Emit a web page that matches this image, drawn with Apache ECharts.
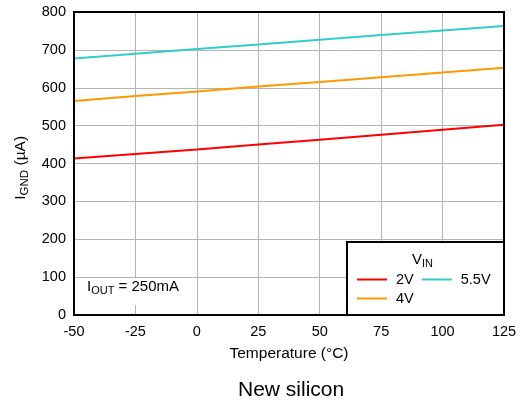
<!DOCTYPE html>
<html><head><meta charset="utf-8">
<script src="https://cdn.jsdelivr.net/npm/echarts@6/dist/echarts.min.js"></script>
<style>html,body{margin:0;padding:0;background:#fff}#c{width:523px;height:406px}</style>
</head><body><div id="c"></div>
<script>
const temps = [-50, -25, 0, 25, 50, 75, 100, 125];
const v2 = [413, 425, 437, 450, 463, 476, 489, 502];
const v4 = [565, 578, 590, 603, 615, 628, 640, 653];
const v55 = [677, 690, 702, 714, 727, 739, 751, 763];
const seriesNames = ['2V', '4V', '5.5V'];
const seriesColors = ['#ff0000', '#ff9900', '#33cccc'];
const seriesData = [v2, v4, v55];

const FONT = 'Liberation Sans, Arial, sans-serif';
const RICH = {
  m: {fontSize: 15, color: '#000', fontFamily: FONT, verticalAlign: 'top', lineHeight: 18},
  s: {fontSize: 11, color: '#000', fontFamily: FONT, verticalAlign: 'top', lineHeight: 18, padding: [6, 0, 0, 0]}
};
const RICHY = {
  m: {fontSize: 15.5, color: '#000', fontFamily: FONT, verticalAlign: 'top', lineHeight: 19},
  s: {fontSize: 11.5, color: '#000', fontFamily: FONT, verticalAlign: 'top', lineHeight: 19, padding: [6, 0, 0, 0]}
};
const chart = echarts.init(document.getElementById('c'), null, {renderer: 'canvas'});
chart.setOption({
  animation: false,
  textStyle: {fontFamily: FONT},
  grid: {left: 74, top: 12, right: 19, bottom: 91, outerBoundsMode: 'none', containLabel: false},
  xAxis: {
    type: 'value', min: -50, max: 125, interval: 25,
    axisLine: {show: true, onZero: false, lineStyle: {color: '#000', width: 2}},
    axisTick: {show: false},
    splitLine: {show: true, lineStyle: {color: '#b4b4b4', width: 1}},
    axisLabel: {color: '#000', fontSize: 14.5, margin: 9, fontFamily: FONT},
    name: 'Temperature (°C)', nameLocation: 'middle', nameGap: 31,
    nameTextStyle: {color: '#000', fontSize: 15.5, fontFamily: FONT}
  },
  yAxis: {
    type: 'value', min: 0, max: 800, interval: 100,
    axisLine: {show: true, onZero: false, lineStyle: {color: '#000', width: 2}},
    axisTick: {show: false},
    splitLine: {show: true, lineStyle: {color: '#b4b4b4', width: 1}},
    axisLabel: {color: '#000', fontSize: 14.5, margin: 8, fontFamily: FONT},
    name: '{m|I}{s|GND}{m| (µA)  }', nameLocation: 'middle', nameGap: 41, nameRotate: 90,
    nameTextStyle: {color: '#000', fontSize: 15.5, fontFamily: FONT, rich: RICHY}
  },
  legend: {
    data: ['2V', '5.5V', '4V'],
    left: 352, top: 267, width: 150, z: 20,
    itemWidth: 30, itemHeight: 2, itemGap: 4,
    icon: 'rect',
    formatter: name => name + ' ',
    textStyle: {color: '#000', fontSize: 14.5, fontFamily: FONT, padding: [0, 0, 0, 4]}
  },
  graphic: [
    {type: 'rect', z: 5, shape: {x: 347, y: 242, width: 157, height: 73},
     style: {fill: '#fff', stroke: '#000', lineWidth: 2}},
    {type: 'text', z: 6, left: 412, top: 252,
     style: {text: '{m|V}{s|IN}', fill: '#000', rich: RICH}},
    {type: 'rect', z: 5, shape: {x: 76, y: 278, width: 112, height: 27}, style: {fill: '#fff'}},
    {type: 'text', z: 6, left: 87, top: 279,
     style: {text: '{m|I}{s|OUT}{m| = 250mA}', fill: '#000', rich: RICH}},
    {type: 'rect', z: 4, shape: {x: 74, y: 12, width: 430, height: 303},
     style: {fill: 'none', stroke: '#000', lineWidth: 2}},
    {type: 'text', left: 238, top: 380,
     style: {text: 'New silicon', fill: '#000', fontSize: 21, fontFamily: FONT}}
  ],
  series: seriesNames.map((n, i) => ({
    name: n, type: 'line', showSymbol: false, symbol: 'none',
    data: temps.map((t, j) => [t, seriesData[i][j]]),
    lineStyle: {color: seriesColors[i], width: 2},
    itemStyle: {color: seriesColors[i]}
  }))
});
</script></body></html>
